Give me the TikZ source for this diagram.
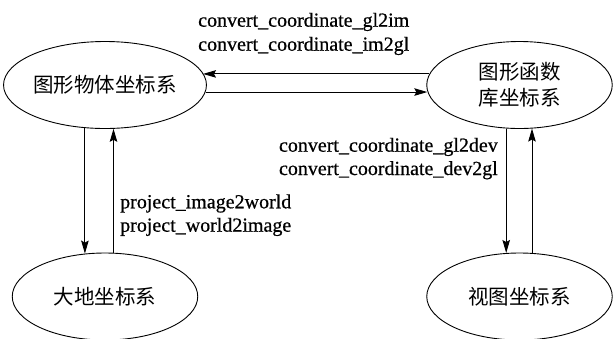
\documentclass[tikz,border=0pt]{standalone}
\usepackage{fontspec}
\setmainfont{Liberation Serif}
\newfontfamily\labelfont[FakeBold=0.6]{Liberation Serif}
\newfontfamily\cjk{Noto Sans CJK SC}
\usetikzlibrary{shapes.geometric,arrows.meta}

\begin{document}
\begin{tikzpicture}[x=1pt,y=-1pt,
  frame/.style={draw, ellipse, line width=0.9pt, minimum width=185.5pt,
    minimum height=87pt, inner sep=0pt, align=center,
    font=\cjk\fontsize{20.5pt}{26pt}\selectfont},
  arr/.style={line width=0.9pt, -{Stealth[length=13pt,width=7.5pt,inset=2pt]}},
  fn/.style={inner sep=0pt, font=\labelfont\fontsize{20pt}{24pt}\selectfont}]
  \path[use as bounding box] (0,0) rectangle (613,338);

  % coordinate systems
  \node[frame] (obj)  at (105,85)    {图形物体坐标系};
  \node[frame] (lib)  at (519.5,85)  {图形函数\\库坐标系};
  \node[frame] (geo)  at (105,296.5) {大地坐标系};
  \node[frame] (view) at (519.5,296.5) {视图坐标系};

  % conversions between object and library frames
  \draw[arr] (lib.173) -- (obj.7 |- lib.173);
  \draw[arr] (obj.356) -- (lib.184 |- obj.356);
  \node[fn, anchor=base west] (g2i) at (198,26.7) {convert\_coordinate\_gl2im};
  \node[fn, anchor=base west] (i2g) at (198,50.7) {convert\_coordinate\_im2gl};

  % projections between object and ground frames
  \draw[arr] (obj.245) -- (obj.245 |- geo.115);
  \draw[arr] (geo.79) -- (geo.79 |- obj.281);
  \node[fn, anchor=base west] (i2w) at (120,208.3) {project\_image2world};
  \node[fn, anchor=base west] (w2i) at (120,231.7) {project\_world2image};

  % conversions between library and view frames
  \draw[arr] (lib.253) -- (lib.253 |- view.107);
  \draw[arr] (view.74) -- (view.74 |- lib.286);
  \node[fn, anchor=base east] (g2d) at (498,151.7) {convert\_coordinate\_gl2dev};
  \node[fn, anchor=base east] (d2g) at (498,175) {convert\_coordinate\_dev2gl};
\end{tikzpicture}
\end{document}
